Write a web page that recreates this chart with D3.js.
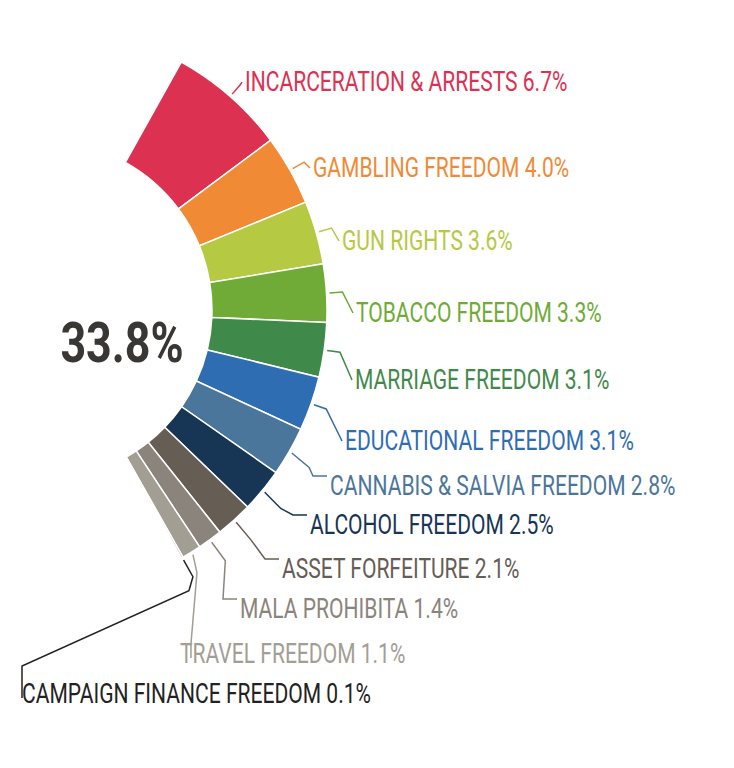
<!DOCTYPE html>
<html><head><meta charset="utf-8">
<script src="https://cdn.jsdelivr.net/npm/d3@7"></script>
<style>body{margin:0;background:#fff}text{font-family:"Roboto",sans-serif}</style>
</head><body><svg id="chart"></svg>
<script>
const categories = ["INCARCERATION & ARRESTS","GAMBLING FREEDOM","GUN RIGHTS","TOBACCO FREEDOM","MARRIAGE FREEDOM","EDUCATIONAL FREEDOM","CANNABIS & SALVIA FREEDOM","ALCOHOL FREEDOM","ASSET FORFEITURE","MALA PROHIBITA","TRAVEL FREEDOM","CAMPAIGN FINANCE FREEDOM"];
const values = [6.7,4.0,3.6,3.3,3.1,3.1,2.8,2.5,2.1,1.4,1.1,0.1];
const colours = ["#dc3151","#f08a34","#b6c943","#6fab36","#3f8a4a","#2f6db3","#4b769c","#173555","#665d55","#8b847c","#a39e94","#b3aea5"];
const labelColours = ["#dc3151","#f08a34","#b6c943","#6fab36","#3f8a4a","#2f6db3","#4b769c","#173555","#665d55","#8b847c","#a39e94","#222222"];
const total = "33.8%";

// label layout (x of text start, vertical middle)
const labelX = [245,313,342,356,355,345,330,310,282,240,180,22];
const labelY = [82,168,241,313,380,441,486,525,569,609,654,694];

const width = 734, height = 768;
const cx = 43, cy = 310, rIn = 169, rOut = 284;
const sx = 0.78; // condensed look
const svg = d3.select("#chart").attr("width", width).attr("height", height);
const g = svg.append("g").attr("transform", `translate(${cx},${cy})`);

const sum = d3.sum(values);
const deg = Math.PI / 180;
const start = (90 - sum * 1.8) * deg, end = (90 + sum * 1.8) * deg;
const pie = d3.pie().sort(null).startAngle(start).endAngle(end);
const arcs = pie(values);
const arc = d3.arc().innerRadius(rIn).outerRadius(rOut);

g.selectAll("path.seg").data(arcs).join("path")
  .attr("class", "seg")
  .attr("d", arc)
  .attr("fill", (d, i) => colours[i])
  .attr("stroke", "#fff").attr("stroke-width", 1.5);

const pt = (a, r) => [Math.sin(a) * r, -Math.cos(a) * r];

// leader lines
g.selectAll("path.lead").data(arcs).join("path")
  .attr("class", "lead")
  .attr("fill", "none")
  .attr("stroke", (d, i) => i === 11 ? "#222" : labelColours[i])
  .attr("stroke-width", 1.5)
  .attr("d", (d, i) => {
    const a = (d.startAngle + d.endAngle) / 2;
    const p0 = pt(a, rOut + 3), p1 = pt(a, rOut + 16);
    const tx = labelX[i] - cx - 3, ty = labelY[i] - cy;
    if (i === 11) {
      const q = pt(a, rOut + 22);
      return d3.line()([p0, q, [q[0] - 4, q[1] + 14], [tx + 3, ty - 28], [tx + 3, ty + 4]]);
    }
    if (i === 10) {
      return d3.line()([p0, [p0[0] + 4, p0[1] + 18], [p0[0] - 2, ty - 10], [p0[0] - 2, ty + 4]]);
    }
    if (i >= 6) {
      return d3.line()([p0, [p1[0] + 6, p1[1] + 8], [tx - 14, ty - 10], [tx, ty - 10]]);
    }
    return d3.line()([p0, p1, [tx, ty]]);
  });

svg.selectAll("text.lab").data(arcs).join("text")
  .attr("class", "lab")
  .attr("transform", (d, i) => `translate(${labelX[i]},${labelY[i]}) scale(${sx},1)`)
  .attr("dy", "0.35em")
  .attr("font-size", 27)
  .attr("fill", (d, i) => labelColours[i])
  .text((d, i) => `${categories[i]} ${values[i].toFixed(1)}%`);

svg.append("text")
  .attr("transform", `translate(122,342) scale(0.8,1)`)
  .attr("dy", "0.35em")
  .attr("text-anchor", "middle")
  .attr("font-size", 56).attr("font-weight", "bold")
  .attr("fill", "#3a3633")
  .text(total);
</script></body></html>
